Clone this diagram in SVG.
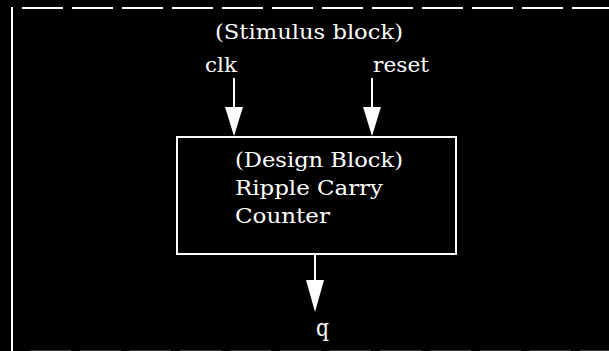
<svg xmlns="http://www.w3.org/2000/svg" width="609" height="351" viewBox="0 0 609 351">
<defs>
<style>
.t{font-family:"DejaVu Serif","Liberation Serif",serif;fill:#fff;font-size:21px}
.ln{stroke:#fff;stroke-width:2;fill:none}
.frame{stroke:#fff;stroke-width:2;fill:none;stroke-dasharray:41 9}
.ah{fill:#fff}
</style>
</defs>
<rect x="0" y="0" width="609" height="351" fill="#000"/>
<g id="frame">
<line class="ln" x1="12" y1="7" x2="12" y2="351"/>
<line class="frame" x1="22" y1="8" x2="609" y2="8"/>
<line class="frame" x1="30" y1="351" x2="609" y2="351" stroke-opacity="0.25"/>
</g>
<g id="stimulus">
<text class="t" x="215" y="39" textLength="188" lengthAdjust="spacingAndGlyphs">(Stimulus block)</text>
</g>
<g id="clk">
<text class="t" x="205" y="72" textLength="32" lengthAdjust="spacingAndGlyphs">clk</text>
</g>
<g id="reset">
<text class="t" x="373" y="72" textLength="56" lengthAdjust="spacingAndGlyphs">reset</text>
</g>
<g id="design">
<rect class="ln" x="177" y="137" width="279" height="117"/>
<text class="t" x="235" y="167" textLength="168" lengthAdjust="spacingAndGlyphs">(Design Block)</text>
<text class="t" x="235" y="195" textLength="148" lengthAdjust="spacingAndGlyphs">Ripple Carry</text>
<text class="t" x="235" y="223" textLength="95" lengthAdjust="spacingAndGlyphs">Counter</text>
</g>
<g id="q">
<text class="t" x="316" y="336" style="font-size:24px" textLength="13" lengthAdjust="spacingAndGlyphs">q</text>
</g>
<g id="connectors">
<line class="ln" x1="234" y1="78" x2="234" y2="110"/>
<polygon class="ah" points="225,107 243,107 234,136"/>
<line class="ln" x1="372" y1="78" x2="372" y2="110"/>
<polygon class="ah" points="363,107 381,107 372,136"/>
<line class="ln" x1="315" y1="254" x2="315" y2="283"/>
<polygon class="ah" points="306,280 324,280 315,312"/>
</g>
</svg>
